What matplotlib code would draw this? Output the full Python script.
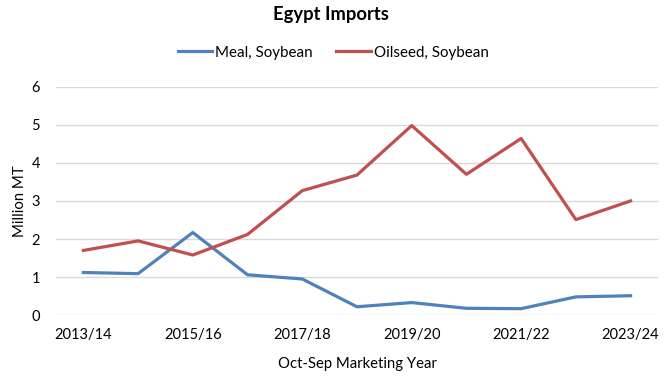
import matplotlib.pyplot as plt

plt.rcParams['font.family'] = ['Lato', 'DejaVu Sans']

years = ["2013/14", "2014/15", "2015/16", "2016/17", "2017/18", "2018/19",
         "2019/20", "2020/21", "2021/22", "2022/23", "2023/24"]
meal = [1.12, 1.09, 2.17, 1.06, 0.95, 0.22, 0.33, 0.18, 0.17, 0.48, 0.51]
oilseed = [1.70, 1.95, 1.58, 2.12, 3.27, 3.68, 4.98, 3.70, 4.64, 2.51, 3.00]

fig = plt.figure(figsize=(6.7, 3.82), dpi=100)
ax = fig.add_axes([0.0836, 0.175, 0.8984, 0.598])

x = range(len(years))
ax.plot(x, meal, color="#4F81BD", lw=2.3, label="Meal, Soybean", solid_joinstyle="round")
ax.plot(x, oilseed, color="#C0504D", lw=2.3, label="Oilseed, Soybean", solid_joinstyle="round")

ax.set_xlim(-0.5, len(years) - 0.5)
ax.set_ylim(0, 6)
ax.set_yticks(range(7))
ax.set_xticks(list(x)[::2])
ax.set_xticklabels(years[::2])
ax.tick_params(length=0, labelsize=10.5, colors="black")
ax.tick_params(axis="x", pad=9)
ax.tick_params(axis="y", pad=11.5)
ax.grid(axis="y", color="#D9D9D9", lw=1)
ax.set_axisbelow(True)
for s in ax.spines.values():
    s.set_visible(False)

ax.set_ylabel("Million MT", fontsize=10.7, labelpad=3)
ax.set_xlabel("Oct-Sep Marketing Year", fontsize=10.7, labelpad=11)

fig.text(0.494, 0.962, "Egypt Imports", ha="center", va="center", fontsize=13.2, fontweight="bold")
fig.legend(loc="center", bbox_to_anchor=(0.497, 0.862), ncol=2, frameon=False,
           fontsize=10.9, handlelength=2.25, columnspacing=1.6, handletextpad=0.2)

fig.savefig("out.png", dpi=100)
